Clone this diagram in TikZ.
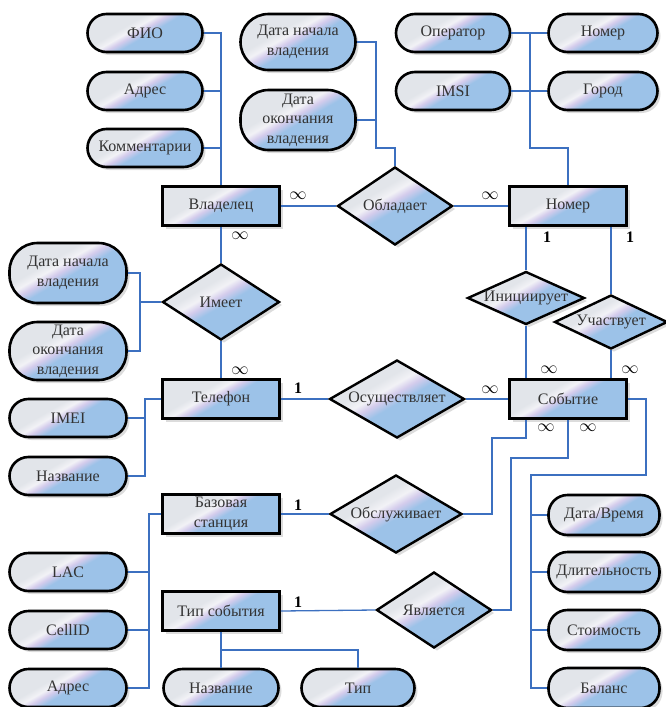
\documentclass[tikz,border=0pt]{standalone}
\usepackage{fontspec}
\setmainfont{Liberation Serif}
\newfontfamily\erfont{Liberation Serif}
\usetikzlibrary{shapes.geometric,shadows}
\definecolor{erblue}{RGB}{156,194,232}
\definecolor{ergrey}{RGB}{226,229,234}
\definecolor{erlav}{RGB}{212,204,236}
\definecolor{erwhite}{RGB}{242,242,246}
\definecolor{erline}{RGB}{60,112,192}
\pgfdeclareverticalshading{erfill}{100bp}{color(0bp)=(erblue); color(48bp)=(erblue); color(53bp)=(erlav); color(57bp)=(erwhite); color(62bp)=(ergrey); color(100bp)=(ergrey)}
\tikzset{
  erbase/.style={draw=black, line width=2.6pt, shading=erfill, shading angle=30,
    drop shadow={shadow xshift=3pt, shadow yshift=-3pt, fill=black!30, opacity=0.45},
    font=\erfont\fontsize{16}{19.5}\selectfont, text=black!80, align=center, inner sep=0pt},
  entity/.style={erbase, rectangle, minimum width=117pt, minimum height=39pt},
  attr/.style={erbase, rectangle, rounded corners=19pt, minimum width=115pt, minimum height=38pt},
  attrbig/.style={erbase, rectangle, rounded corners=28pt, minimum width=117pt, minimum height=58pt},
  rel/.style={erbase, diamond, line width=2.4pt},
  conn/.style={draw=erline, line width=1.3pt},
  card/.style={font=\erfont\fontsize{16}{16}\selectfont, inner sep=0pt},
}
\begin{document}
\begin{tikzpicture}[x=1pt,y=-1pt]
\useasboundingbox (0,0) rectangle (666,707);

% ---------- entities
\node[entity] (vlad) at (221,206) {Владелец};
\node[entity] (nomer) at (568,206) {Номер};
\node[entity] (tel) at (221,399) {Телефон};
\node[entity] (sob) at (568,399) {Событие};
\node[entity] (bs) at (221,514) {Базовая\\станция};
\node[entity] (tip) at (221,611) {Тип события};

% ---------- relationships
\node[rel, minimum width=115pt, minimum height=78pt] (obl) at (395,206) {\makebox[0pt]{Обладает}};
\node[rel, minimum width=117pt, minimum height=76pt] (imeet) at (221,302) {\makebox[0pt]{Имеет}};
\node[rel, minimum width=117pt, minimum height=53pt] (init) at (526,298) {\makebox[0pt]{Инициирует}};
\node[rel, minimum width=113pt, minimum height=54pt] (uch) at (611,322) {\makebox[0pt]{Участвует}};
\node[rel, minimum width=135pt, minimum height=78pt] (osush) at (397,399) {\makebox[0pt]{Осуществляет}};
\node[rel, minimum width=132pt, minimum height=78pt] (obsl) at (396,514) {\makebox[0pt]{Обслуживает}};
\node[rel, minimum width=115pt, minimum height=76pt] (yavl) at (434,610) {\makebox[0pt]{Является}};

% ---------- attributes
\node[attr] (afio) at (145,33) {ФИО};
\node[attr] (aadr) at (145,91) {Адрес};
\node[attr] (akom) at (145,148) {Комментарии};
\node[attrbig, minimum width=115pt, minimum height=56pt] (adn1) at (298,42) {Дата начала\\владения};
\node[attrbig, minimum width=115pt, minimum height=60pt] (ado1) at (298,120) {Дата\\окончания\\владения};
\node[attr, minimum width=114pt] (aoper) at (453,33) {Оператор};
\node[attr, minimum width=109pt] (anom) at (603,33) {Номер};
\node[attr, minimum width=114pt] (aimsi) at (453,91) {IMSI};
\node[attr, minimum width=109pt] (agor) at (603,91) {Город};
\node[attrbig, minimum height=60pt] (adn2) at (68,273) {Дата начала\\владения};
\node[attrbig, minimum height=58pt] (ado2) at (68,351) {Дата\\окончания\\владения};
\node[attr, minimum width=117pt] (aimei) at (68,418) {IMEI};
\node[attr, minimum width=117pt] (anazv) at (68,476) {Название};
\node[attr, minimum width=117pt] (alac) at (68,572) {LAC};
\node[attr, minimum width=117pt] (acell) at (68,630) {CellID};
\node[attr, minimum width=117pt] (aadr2) at (68,688) {Адрес};
\node[attr] (anazv2) at (221,688) {Название};
\node[attr, minimum width=113pt] (atip) at (358,688) {Тип};
\node[attr, minimum width=111pt, minimum height=40pt] (adt) at (604,515) {Дата/Время};
\node[attr, minimum width=111pt, minimum height=40pt] (adl) at (604,572) {Длительность};
\node[attr, minimum width=111pt, minimum height=40pt] (ast) at (604,630) {Стоимость};
\node[attr, minimum width=111pt, minimum height=40pt] (abal) at (604,688) {Баланс};

% ---------- junction coordinates
\coordinate (j1) at (376,148);
\coordinate (j2) at (530,148);
\coordinate (j3) at (140,302);
\coordinate (j4) at (145,0);
\coordinate (k1) at (492,438);
\coordinate (k2) at (511,458);
\coordinate (k3) at (646,475);
\coordinate (k4) at (531,0);
\coordinate (k5) at (149,0);
\coordinate (k6) at (0,650);

% ---------- connectors
\draw[conn] (afio.east) -| (vlad.north);
\draw[conn] (aadr.east) -- (aadr.east -| vlad.north);
\draw[conn] (akom.east) -- (akom.east -| vlad.north);

\draw[conn] (adn1.east) -| (j1) -| (obl.north);
\draw[conn] (ado1.east) -- (ado1.east -| j1);

\draw[conn] (aoper.east) -- (anom.west);
\draw[conn] (aimsi.east) -- (agor.west);
\draw[conn] (aoper.east -| j2) -- (j2) -| (nomer.north);

\draw[conn] (vlad.east) -- (obl.west);
\draw[conn] (obl.east) -- (nomer.west);
\draw[conn] (vlad.south) -- (imeet.north);
\draw[conn] (imeet.south) -- (tel.north);

\draw[conn] (adn2.east) -| (j3 |- ado2.east) -- (ado2.east);
\draw[conn] (j3) -- (imeet.west);

\draw[conn] (tel.west) -| (j4 |- anazv.east) -- (anazv.east);
\draw[conn] (aimei.east) -- (aimei.east -| j4);

\draw[conn] (tel.east) -- (osush.west);
\draw[conn] (osush.east) -- (sob.west);

\draw[conn] (init.north |- nomer.south) -- (init.north);
\draw[conn] (init.south) -- (init.south |- sob.north);
\draw[conn] (uch.north |- nomer.south) -- (uch.north);
\draw[conn] (uch.south) -- (uch.south |- sob.north);

\draw[conn] (init.south |- sob.south) |- (k1) |- (obsl.east);
\draw[conn] (sob.south) |- (k2) |- (yavl.east);
\draw[conn] (sob.east) -| (k3) -| (abal.west -| k4) -- (abal.west);
\draw[conn] (adt.west) -- (adt.west -| k4);
\draw[conn] (adl.west) -- (adl.west -| k4);
\draw[conn] (ast.west) -- (ast.west -| k4);

\draw[conn] (bs.west) -| (k5 |- aadr2.east) -- (aadr2.east);
\draw[conn] (alac.east) -- (alac.east -| k5);
\draw[conn] (acell.east) -- (acell.east -| k5);

\draw[conn] (bs.east) -- (obsl.west);
\draw[conn] (tip.east) -- (yavl.west);

\draw[conn] (tip.south) -- (anazv2.north);
\draw[conn] (tip.south |- k6) -| (atip.north);

% ---------- cardinalities
\node[card] (c1) at (298,196) {$\infty$};
\node[card] (c2) at (490,196) {$\infty$};
\node[card] (c3) at (240,236) {$\infty$};
\node[card] (c4) at (240,371) {$\infty$};
\node[card] (c5) at (490,390) {$\infty$};
\node[card] (c6) at (549,370) {$\infty$};
\node[card] (c7) at (630,370) {$\infty$};
\node[card] (c8) at (546,428) {$\infty$};
\node[card] (c9) at (588,428) {$\infty$};
\node[card] (d1) at (298,388) {\textbf{1}};
\node[card] (d2) at (298,505) {\textbf{1}};
\node[card] (d3) at (298,602) {\textbf{1}};
\node[card] (d4) at (547,237) {\textbf{1}};
\node[card] (d5) at (630,237) {\textbf{1}};
\end{tikzpicture}
\end{document}
